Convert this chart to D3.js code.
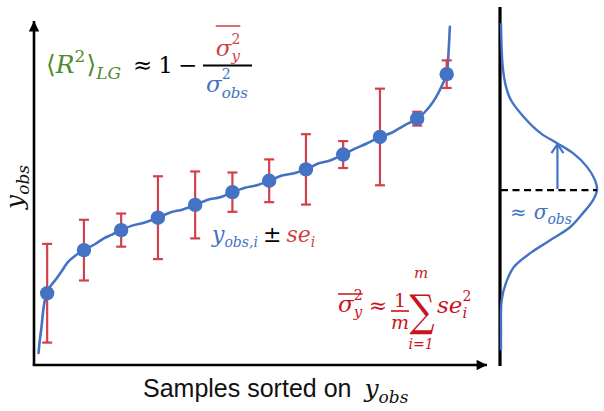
<!DOCTYPE html>
<html>
<head>
<meta charset="utf-8">
<script src="https://cdn.jsdelivr.net/npm/d3@7"></script>
<style>
  html, body { margin: 0; padding: 0; background: #fff; }
  svg { display: block; }
  text { white-space: pre; }
</style>
</head>
<body>
<svg id="chart" width="604" height="411"></svg>
<script>
// ---------------- DATA ----------------
// sorted sample ranks (0-100) of the highlighted samples
const sampleRank = [2.9, 11.0, 19.2, 27.3, 35.5, 43.7, 51.8, 59.9, 68.1, 76.2, 84.4, 90.9];
// observed values y_obs,i (arbitrary units 0-100)
const yObs = [20.8, 33.3, 39.1, 42.7, 46.4, 50.1, 53.4, 56.7, 61.0, 66.1, 71.4, 84.3];
// standard errors se_i
const seVals = [14.3, 8.8, 4.8, 12.0, 9.7, 5.7, 6.2, 10.2, 3.9, 14.0, 2.0, 4.0];

// sorted curve of all samples (rank, y_obs)
const curveRank = [1.0, 1.3, 1.65, 2.0, 2.4, 2.9, 3.7, 4.8, 6.2, 7.5, 9.0, 11.0, 13.4, 15.4, 17.2, 19.2,
  21.6, 24.4, 27.3, 30.0, 32.8, 35.5, 38.3, 41.0, 43.7, 46.5, 49.1, 51.8, 54.6, 57.3, 59.9,
  62.6, 65.2, 68.1, 70.7, 73.3, 76.2, 78.9, 81.5, 84.4, 85.9, 87.2, 88.5, 89.6, 90.9, 91.2, 91.4, 91.6];
const curveVal = [3.5, 7.4, 11.0, 15.4, 18.8, 20.8, 23.0, 24.8, 27.4, 29.9, 31.6, 33.3, 35.0, 36.7, 37.8, 39.1,
  40.4, 41.3, 42.7, 44.2, 45.1, 46.4, 47.9, 48.6, 50.1, 51.4, 52.1, 53.4, 54.9, 55.6, 56.7,
  58.4, 59.3, 61.0, 62.7, 64.2, 66.1, 67.4, 69.4, 71.4, 73.1, 75.0, 77.5, 80.3, 84.3, 88.4, 92.8, 98.0];

// distribution of y_obs (value, relative density)
const densVal   = [99.1, 86.5, 80.7, 76.8, 71.9, 67.2, 64.3, 61.4, 57.5, 53.6, 50.7, 47.8, 44.1, 40.0, 36.2, 32.5, 28.4, 23.8, 18.8, 9.3, 4.3];
const densLevel = [0.0, 0.018, 0.052, 0.103, 0.237, 0.412, 0.584, 0.75, 0.894, 0.979, 1.0, 0.959, 0.856, 0.722, 0.515, 0.309, 0.134, 0.052, 0.007, 0.0, 0.0];
const meanObs = 50.7;
const sigmaObs = 13.6;
const sigmaLevel = 0.588;

const xLabelText = "Samples sorted on ";

// ---------------- STYLE ----------------
const BLUE = "#4472c4", RED = "#d2404a", DRED = "#c8141e", GREEN = "#4f8a2b", BLACK = "#000";
const MATH = "'DejaVu Serif', serif";

const svg = d3.select("#chart");

const x = d3.scaleLinear().domain([0, 100]).range([34, 488]);
const y = d3.scaleLinear().domain([0, 100]).range([365, 20]);
const dx = d3.scaleLinear().domain([0, 1]).range([501, 597]);

// arrow markers
const defs = svg.append("defs");
defs.append("marker").attr("id", "ah").attr("viewBox", "0 0 10 10").attr("refX", 10).attr("refY", 5)
  .attr("markerWidth", 5).attr("markerHeight", 4).attr("markerUnits", "strokeWidth").attr("orient", "auto")
  .append("path").attr("d", "M0,0 L10,5 L0,10 Z").attr("fill", BLACK);

// ---------------- AXES ----------------
const axisG = svg.append("g");
axisG.append("line").attr("x1", x(0)).attr("y1", y(0)).attr("x2", x(0)).attr("y2", y(100) + 1)
  .attr("stroke", BLACK).attr("stroke-width", 2.6).attr("marker-end", "url(#ah)");
axisG.append("line").attr("x1", x(0) - 1.3).attr("y1", y(0)).attr("x2", x(100) - 1).attr("y2", y(0))
  .attr("stroke", BLACK).attr("stroke-width", 2.6).attr("marker-end", "url(#ah)");

// ---------------- CURVE ----------------
const line = d3.line().x(d => x(d[0])).y(d => y(d[1])).curve(d3.curveCatmullRom.alpha(0.5));
svg.append("path").datum(d3.zip(curveRank, curveVal)).attr("d", line)
  .attr("fill", "none").attr("stroke", BLUE).attr("stroke-width", 2.6).attr("stroke-linecap", "round");

// error bars
const pts = sampleRank.map((r, i) => ({ r, v: yObs[i], se: seVals[i] }));
const eb = svg.append("g").attr("stroke", RED).attr("stroke-width", 2.2);
eb.selectAll("line.v").data(pts).join("line").attr("class", "v")
  .attr("x1", d => x(d.r)).attr("x2", d => x(d.r)).attr("y1", d => y(d.v - d.se)).attr("y2", d => y(d.v + d.se));
eb.selectAll("line.t").data(pts).join("line").attr("class", "t")
  .attr("x1", d => x(d.r) - 5).attr("x2", d => x(d.r) + 5).attr("y1", d => y(d.v + d.se)).attr("y2", d => y(d.v + d.se));
eb.selectAll("line.b").data(pts).join("line").attr("class", "b")
  .attr("x1", d => x(d.r) - 5).attr("x2", d => x(d.r) + 5).attr("y1", d => y(d.v - d.se)).attr("y2", d => y(d.v - d.se));

svg.append("g").selectAll("circle").data(pts).join("circle")
  .attr("cx", d => x(d.r)).attr("cy", d => y(d.v)).attr("r", 7.2).attr("fill", BLUE);

// ---------------- RIGHT PANEL ----------------
svg.append("line").attr("x1", 500).attr("x2", 500).attr("y1", 7).attr("y2", y(0) + 1)
  .attr("stroke", BLACK).attr("stroke-width", 3.2);
const dline = d3.line().x(d => dx(d[1])).y(d => y(d[0])).curve(d3.curveCatmullRom.alpha(0.5));
svg.append("path").datum(d3.zip(densVal, densLevel)).attr("d", dline)
  .attr("fill", "none").attr("stroke", BLUE).attr("stroke-width", 2.4);
svg.append("line").attr("x1", dx(0)).attr("x2", dx(1)).attr("y1", y(meanObs)).attr("y2", y(meanObs))
  .attr("stroke", BLACK).attr("stroke-width", 2.4).attr("stroke-dasharray", "7,4.5");
const ax = dx(sigmaLevel), ayTop = y(meanObs + sigmaObs) + 1;
svg.append("line").attr("x1", ax).attr("x2", ax).attr("y1", y(meanObs) - 1).attr("y2", ayTop)
  .attr("stroke", BLUE).attr("stroke-width", 2.2);
svg.append("path").attr("d", `M${ax - 6},${ayTop + 9} L${ax},${ayTop} L${ax + 6},${ayTop + 9}`)
  .attr("fill", "none").attr("stroke", BLUE).attr("stroke-width", 2.2);

// ---------------- MATH TEXT HELPER ----------------
function mrow(parent, items) {
  const g = parent.append("g");
  let cx = 0, stackStart = null, stackW = 0;
  items.forEach(it => {
    const xp = stackStart !== null ? stackStart : cx;
    const t = g.append("text").attr("x", xp).attr("y", it.dy || 0)
      .attr("font-family", it.font || MATH).attr("font-size", it.s || 22)
      .attr("font-style", it.up ? "normal" : "italic").attr("fill", it.c || BLACK)
      .text(it.t);
    const w = t.node().getComputedTextLength();
    if (it.hold) {
      if (stackStart === null) stackStart = cx;
      stackW = Math.max(stackW, w);
    } else if (stackStart !== null) {
      cx = stackStart + Math.max(stackW, w) + (it.sp || 0);
      stackStart = null; stackW = 0;
    } else {
      cx += w + (it.sp || 0);
    }
  });
  return { g, w: cx };
}
function place(r, xPos, yPos, anchor) {
  r.g.attr("transform", `translate(${xPos - (anchor || 0) * r.w},${yPos})`);
  return r;
}

// ---- top formula ----
place(mrow(svg, [
  { t: "\u27E8", s: 25, up: true, c: GREEN },
  { t: "R", s: 25, c: GREEN },
  { t: "2", s: 17, dy: -11, up: true, c: GREEN, sp: 1 },
  { t: "\u27E9", s: 25, up: true, c: GREEN },
  { t: "LG", s: 17, dy: 6, c: GREEN }
]), 46, 73);
place(mrow(svg, [
  { t: "\u2248", s: 23, up: true, sp: 6 },
  { t: "1", s: 23, up: true, sp: 5 },
  { t: "\u2212", s: 23, up: true }
]), 133, 73);
svg.append("line").attr("x1", 203).attr("x2", 252).attr("y1", 65.5).attr("y2", 65.5)
  .attr("stroke", BLACK).attr("stroke-width", 1.8);
const num = place(mrow(svg, [
  { t: "\u03C3", s: 23, c: RED },
  { t: "2", s: 14, dy: -12, up: true, c: RED, hold: true },
  { t: "y", s: 15, dy: 5, c: RED }
]), 228, 56, 0.5);
svg.append("line").attr("x1", 228 - num.w / 2).attr("x2", 228 + num.w / 2).attr("y1", 26).attr("y2", 26)
  .attr("stroke", RED).attr("stroke-width", 1.5);
place(mrow(svg, [
  { t: "\u03C3", s: 23, c: BLUE },
  { t: "2", s: 14, dy: -13, up: true, c: BLUE, hold: true },
  { t: "obs", s: 15, dy: 6, c: BLUE }
]), 227, 92, 0.5);

// ---- middle label ----
place(mrow(svg, [
  { t: "y", s: 22, c: BLUE },
  { t: "obs,i", s: 14, dy: 5, c: BLUE, sp: 5 },
  { t: "\u00B1", s: 22, up: true, sp: 5 },
  { t: "se", s: 22, c: RED },
  { t: "i", s: 14, dy: 5, c: RED }
]), 212, 242);

// ---- bottom-right formula ----
const lhs = place(mrow(svg, [
  { t: "\u03C3", s: 23, c: DRED },
  { t: "2", s: 14, dy: -12, up: true, c: DRED, hold: true },
  { t: "y", s: 15, dy: 5, c: DRED }
]), 338, 312);
svg.append("line").attr("x1", 338).attr("x2", 338 + lhs.w).attr("y1", 294).attr("y2", 294)
  .attr("stroke", DRED).attr("stroke-width", 1.5);
place(mrow(svg, [{ t: "\u2248", s: 22, up: true, c: DRED }]), 338 + lhs.w + 6, 313);
place(mrow(svg, [{ t: "1", s: 19, up: true, c: DRED }]), 400, 307, 0.5);
svg.append("line").attr("x1", 391).attr("x2", 409).attr("y1", 311).attr("y2", 311)
  .attr("stroke", DRED).attr("stroke-width", 1.6);
place(mrow(svg, [{ t: "m", s: 19, c: DRED }]), 400, 329, 0.5);
svg.append("text").attr("transform", "translate(422,326) scale(0.8,1)")
  .attr("text-anchor", "middle").attr("font-family", MATH).attr("font-size", 44).attr("fill", DRED)
  .text("\u2211");
place(mrow(svg, [{ t: "m", s: 15, c: DRED }]), 421, 278, 0.5);
place(mrow(svg, [{ t: "i=1", s: 14, c: DRED }]), 421, 349, 0.5);
place(mrow(svg, [
  { t: "se", s: 23, c: DRED },
  { t: "2", s: 14, dy: -12, up: true, c: DRED, hold: true },
  { t: "i", s: 15, dy: 5, c: DRED }
]), 437, 313);

// ---- right panel label ----
place(mrow(svg, [
  { t: "\u2248", s: 20, up: true, c: BLUE, sp: 7 },
  { t: "\u03C3", s: 20, c: BLUE },
  { t: "obs", s: 14, dy: 5, c: BLUE }
]), 510, 219);

// ---- axis labels ----
const xl = mrow(svg, [
  { t: xLabelText, s: 25, up: true, font: "'Liberation Sans', Arial, sans-serif", c: "#111", sp: 6 },
  { t: "y", s: 25, c: "#111" },
  { t: "obs", s: 17, dy: 6, c: "#111" }
]);
place(xl, 143, 397);
const yl = mrow(svg, [
  { t: "y", s: 25, c: "#111" },
  { t: "obs", s: 17, dy: 6, c: "#111" }
]);
yl.g.attr("transform", `translate(23,${187 + yl.w / 2}) rotate(-90)`);
</script>
</body>
</html>
